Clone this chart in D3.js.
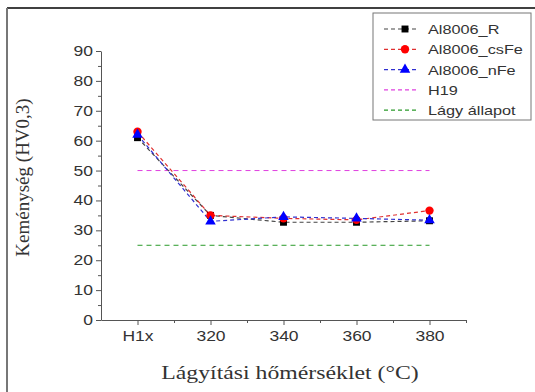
<!DOCTYPE html>
<html>
<head>
<meta charset="utf-8">
<script src="https://cdn.jsdelivr.net/npm/d3@7"></script>
<style>
body { margin: 0; background: #fff; }
</style>
</head>
<body>
<div id="chart"></div>
<script>
const width = 535, height = 392

const categories = ["H1x", "320", "340", "360", "380"]
const seriesNames = ["Al8006_R", "Al8006_csFe", "Al8006_nFe"]
const valuesR = [61, 35, 32.7, 32.7, 33.2]
const valuesCsFe = [63, 35, 34, 33.5, 36.6]
const valuesNFe = [62, 33, 34.5, 34, 33.4]
const h19 = 50
const lagy = 25
const yTicks = [0, 10, 20, 30, 40, 50, 60, 70, 80, 90]

const margin = {left: 101, right: 69, top: 51, bottom: 72}
const stretch = 1.25   // the original picture has horizontally wide glyphs

const svg = d3.select("#chart").append("svg")
  .attr("width", width)
  .attr("height", height)

// frame lines
svg.append("line").attr("x1", 7).attr("x2", width).attr("y1", 8).attr("y2", 8)
  .attr("stroke", "#000").attr("stroke-width", 1.5)
svg.append("line").attr("x1", 7).attr("x2", 7).attr("y1", 8).attr("y2", height)
  .attr("stroke", "#777").attr("stroke-width", 2)

let x = d3.scaleLinear()
  .domain([-0.5, categories.length - 0.5])
  .range([margin.left, width - margin.right])

let y = d3.scaleLinear()
  .domain([0, 90])
  .range([height - margin.bottom, margin.top])

// y axis
svg.append("g")
  .attr("transform", `translate(${margin.left},0)`)
  .call(d3.axisLeft(y).tickValues(yTicks).tickSize(5).tickSizeOuter(0))
svg.append("g")
  .attr("transform", `translate(${margin.left},0)`)
  .call(d3.axisLeft(y).tickValues(d3.range(5, 90, 10)).tickSize(3).tickFormat("").tickSizeOuter(0))
  .call(g => g.select(".domain").remove())

// x axis
svg.append("g")
  .attr("transform", `translate(0,${height - margin.bottom})`)
  .call(d3.axisBottom(x).tickValues(d3.range(categories.length)).tickSize(5).tickPadding(6)
    .tickFormat(i => categories[i]).tickSizeOuter(0))
svg.append("g")
  .attr("transform", `translate(0,${height - margin.bottom})`)
  .call(d3.axisBottom(x).tickValues(d3.range(0.5, categories.length, 1)).tickSize(3).tickFormat("").tickSizeOuter(0))
  .call(g => g.select(".domain").remove())

svg.selectAll(".domain, .tick line").attr("stroke", "#555")
svg.selectAll(".tick text")
  .attr("font-family", "Liberation Sans, Arial, sans-serif")
  .attr("font-size", 14)
  .attr("fill", "#333")
  .attr("class", "wide")

// axis titles
svg.append("text")
  .attr("class", "wide")
  .attr("x", 290).attr("y", 379)
  .attr("text-anchor", "middle")
  .attr("font-family", "Liberation Serif, serif")
  .attr("font-size", 19)
  .attr("fill", "#333")
  .text("Lágyítási hőmérséklet (°C)")

svg.append("text")
  .attr("transform", `translate(29,${(margin.top + height - margin.bottom) / 2 - 8}) rotate(-90)`)
  .attr("text-anchor", "middle")
  .attr("font-family", "Liberation Serif, serif")
  .attr("font-size", 19)
  .attr("fill", "#333")
  .text("Keménység (HV0,3)")

// reference lines
const refLines = [
  {value: h19, color: "#e040e0", name: "H19"},
  {value: lagy, color: "#2a9a2a", name: "Lágy állapot"}
]
refLines.forEach(r => {
  svg.append("line")
    .attr("x1", x(0)).attr("x2", x(categories.length - 1))
    .attr("y1", y(r.value)).attr("y2", y(r.value))
    .attr("stroke", r.color).attr("stroke-width", 1)
    .attr("stroke-dasharray", "5,4")
})

const series = [
  {name: seriesNames[0], values: valuesR, color: "#000", lineColor: "#444", shape: d3.symbolSquare, size: 48},
  {name: seriesNames[1], values: valuesCsFe, color: "#f00", lineColor: "#e03030", shape: d3.symbolCircle, size: 55},
  {name: seriesNames[2], values: valuesNFe, color: "#00f", lineColor: "#3030d0", shape: d3.symbolTriangle, size: 48}
]

let line = d3.line()
  .x((d, i) => x(i))
  .y(d => y(d))

series.forEach(s => {
  svg.append("path")
    .datum(s.values)
    .attr("fill", "none")
    .attr("stroke", s.lineColor)
    .attr("stroke-width", 1.2)
    .attr("stroke-dasharray", "4,3")
    .attr("d", line)
})

series.forEach(s => {
  svg.selectAll(null)
    .data(s.values)
    .enter()
    .append("path")
    .attr("transform", (d, i) => `translate(${x(i)},${y(d)})`)
    .attr("d", d3.symbol().type(s.shape).size(s.size))
    .attr("fill", s.color)
})

// legend
let legend = svg.append("g")
legend.append("rect")
  .attr("x", 373).attr("y", 13)
  .attr("width", 158).attr("height", 107)
  .attr("fill", "#fff")
  .attr("stroke", "#777")

const legendItems = series.map(s => ({name: s.name, color: s.lineColor, marker: s}))
  .concat(refLines.map(r => ({name: r.name, color: r.color, marker: null})))

legendItems.forEach((item, i) => {
  let ly = 29 + i * 20.3
  legend.append("line")
    .attr("x1", 384).attr("x2", 416)
    .attr("y1", ly).attr("y2", ly)
    .attr("stroke", item.color)
    .attr("stroke-width", 1.2)
    .attr("stroke-dasharray", "4,3")
  if (item.marker) {
    legend.append("path")
      .attr("transform", `translate(405,${ly})`)
      .attr("d", d3.symbol().type(item.marker.shape).size(item.marker.size))
      .attr("fill", item.marker.color)
  }
  legend.append("text")
    .attr("class", "wide")
    .attr("x", 428).attr("y", ly + 5)
    .attr("font-family", "Liberation Sans, Arial, sans-serif")
    .attr("font-size", 13)
    .attr("fill", "#333")
    .text(item.name)
})

// widen glyphs like in the original
svg.selectAll("text.wide").each(function() {
  let len = this.getComputedTextLength()
  d3.select(this)
    .attr("textLength", len * stretch)
    .attr("lengthAdjust", "spacingAndGlyphs")
})
</script>
</body>
</html>
